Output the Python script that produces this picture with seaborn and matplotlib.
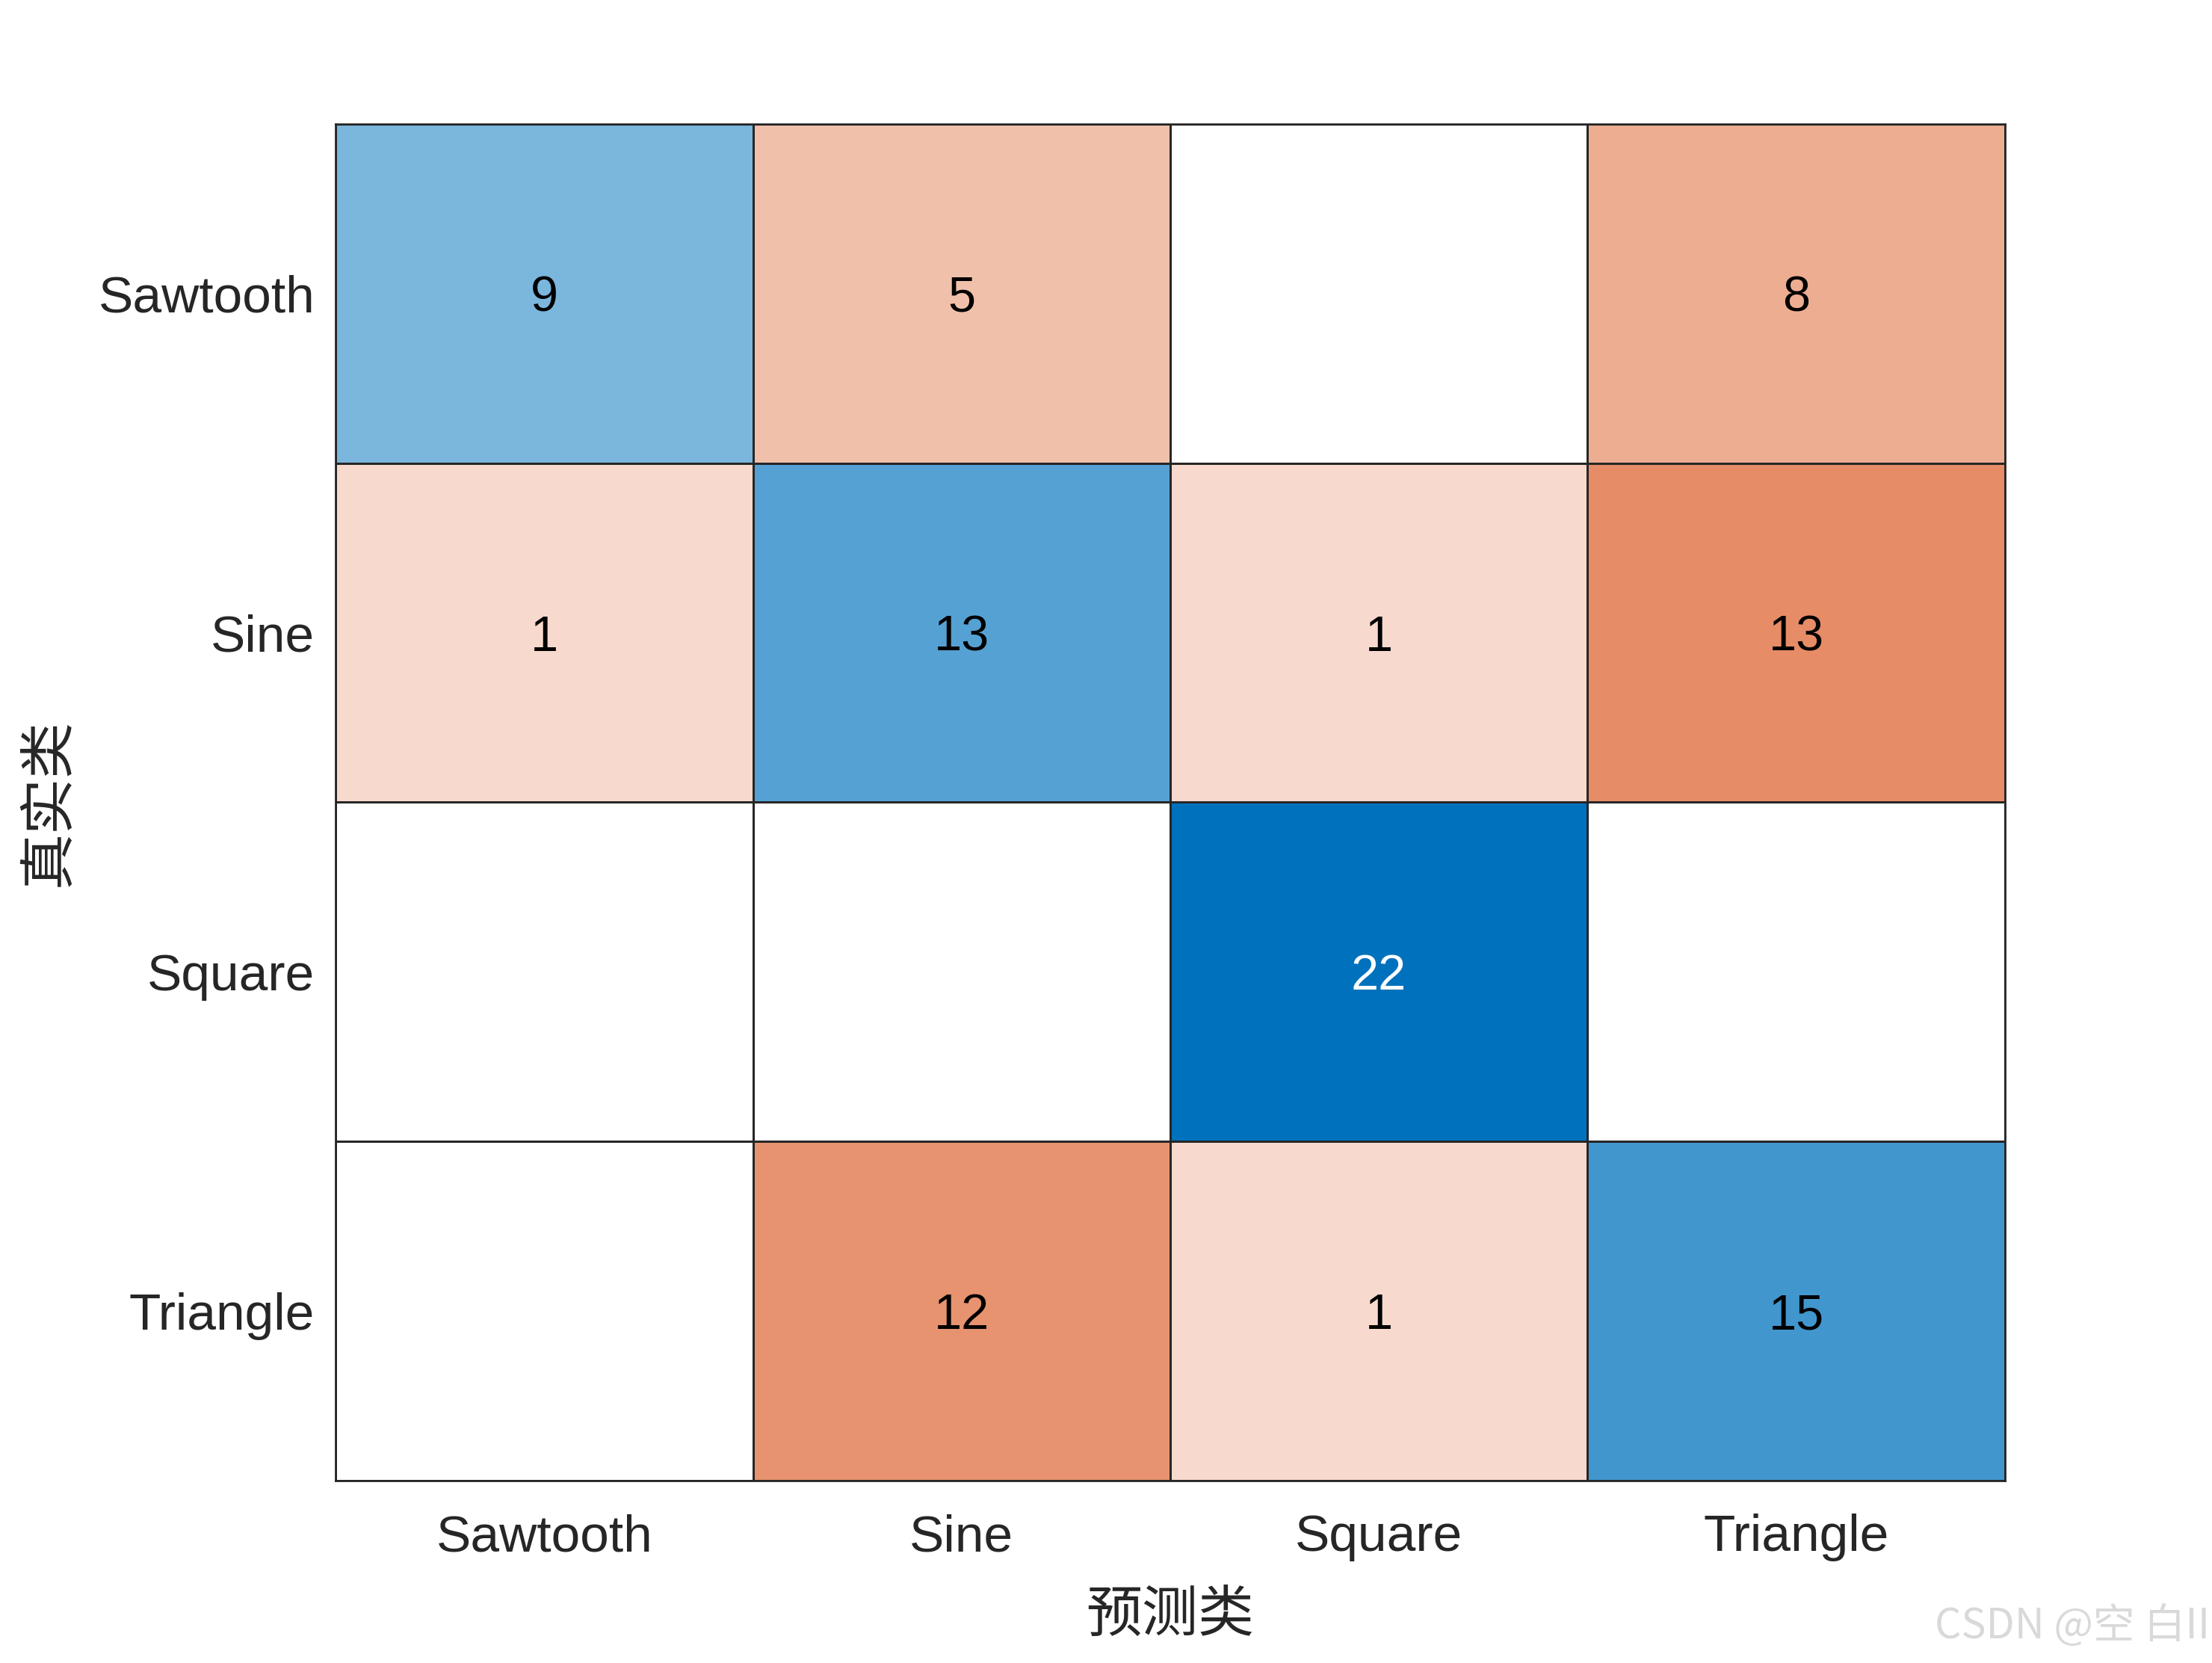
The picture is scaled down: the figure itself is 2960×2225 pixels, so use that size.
import numpy as np
import pandas as pd
import seaborn as sns
import matplotlib.pyplot as plt
from matplotlib.colors import LinearSegmentedColormap

# confusion matrix (rows = true class, cols = predicted class)
classes = ['Sawtooth', 'Sine', 'Square', 'Triangle']
row_sawtooth = [9, 5, 0, 8]
row_sine = [1, 13, 1, 13]
row_square = [0, 0, 22, 0]
row_triangle = [0, 12, 1, 15]

cm = pd.DataFrame([row_sawtooth, row_sine, row_square, row_triangle],
                  index=classes, columns=classes)

sns.set_style('white')
plt.rcParams['font.family'] = ['Liberation Sans', 'Noto Sans CJK SC', 'DejaVu Sans']

# MATLAB confusionchart style colours
blue_map = LinearSegmentedColormap.from_list('mblue', ['#ffffff', '#0072BD'])
orange_map = LinearSegmentedColormap.from_list('morange', ['#ffffff', '#D95319'])

vmax = cm.values.max()
vmin = -0.22 * vmax

diag = np.eye(len(classes), dtype=bool)
zero = cm.values == 0

fig = plt.figure(figsize=(14.8, 11.125), dpi=200)
ax = fig.add_axes([0.1517, 0.1097, 0.7547, 0.8157])

sns.heatmap(cm, mask=~diag | zero, cmap=blue_map, vmin=vmin, vmax=vmax,
            cbar=False, linewidths=1.0, linecolor='#262626', ax=ax)
sns.heatmap(cm, mask=diag | zero, cmap=orange_map, vmin=vmin, vmax=vmax,
            cbar=False, linewidths=1.0, linecolor='#262626', ax=ax)

# grid lines also for the white (zero) cells
for k in range(1, len(classes)):
    ax.axhline(k, color='#262626', lw=1.0)
    ax.axvline(k, color='#262626', lw=1.0)

# cell counts
for i in range(len(classes)):
    for j in range(len(classes)):
        v = cm.values[i, j]
        if v == 0:
            continue
        col = 'white' if (i == j and v / vmax > 0.8) else 'black'
        ax.text(j + 0.5, i + 0.5, str(v), ha='center', va='center_baseline',
                fontsize=24, color=col)

for s in ax.spines.values():
    s.set_visible(True)
    s.set_color('#262626')
    s.set_linewidth(1.0)

ax.tick_params(axis='both', length=0, labelsize=25, colors='#262626', pad=10)
ax.set_xticklabels(classes, rotation=0)
ax.set_yticklabels(classes, rotation=0, va='center_baseline')
ax.tick_params(axis='x', pad=16)

ax.set_xlabel('预测类', fontsize=27, family=['Noto Sans CJK SC', 'DejaVu Sans'],
              color='#262626', labelpad=12)
ax.set_ylabel('真实类', fontsize=27, family=['Noto Sans CJK SC', 'DejaVu Sans'],
              color='#262626', labelpad=10)

fig.text(0.999, 0.022, 'CSDN @空 白II', ha='right', va='center', fontsize=20,
         color='#d9d9d9', family=['Noto Sans CJK SC', 'DejaVu Sans'])

fig.savefig('out.png', dpi=200, facecolor='white')
